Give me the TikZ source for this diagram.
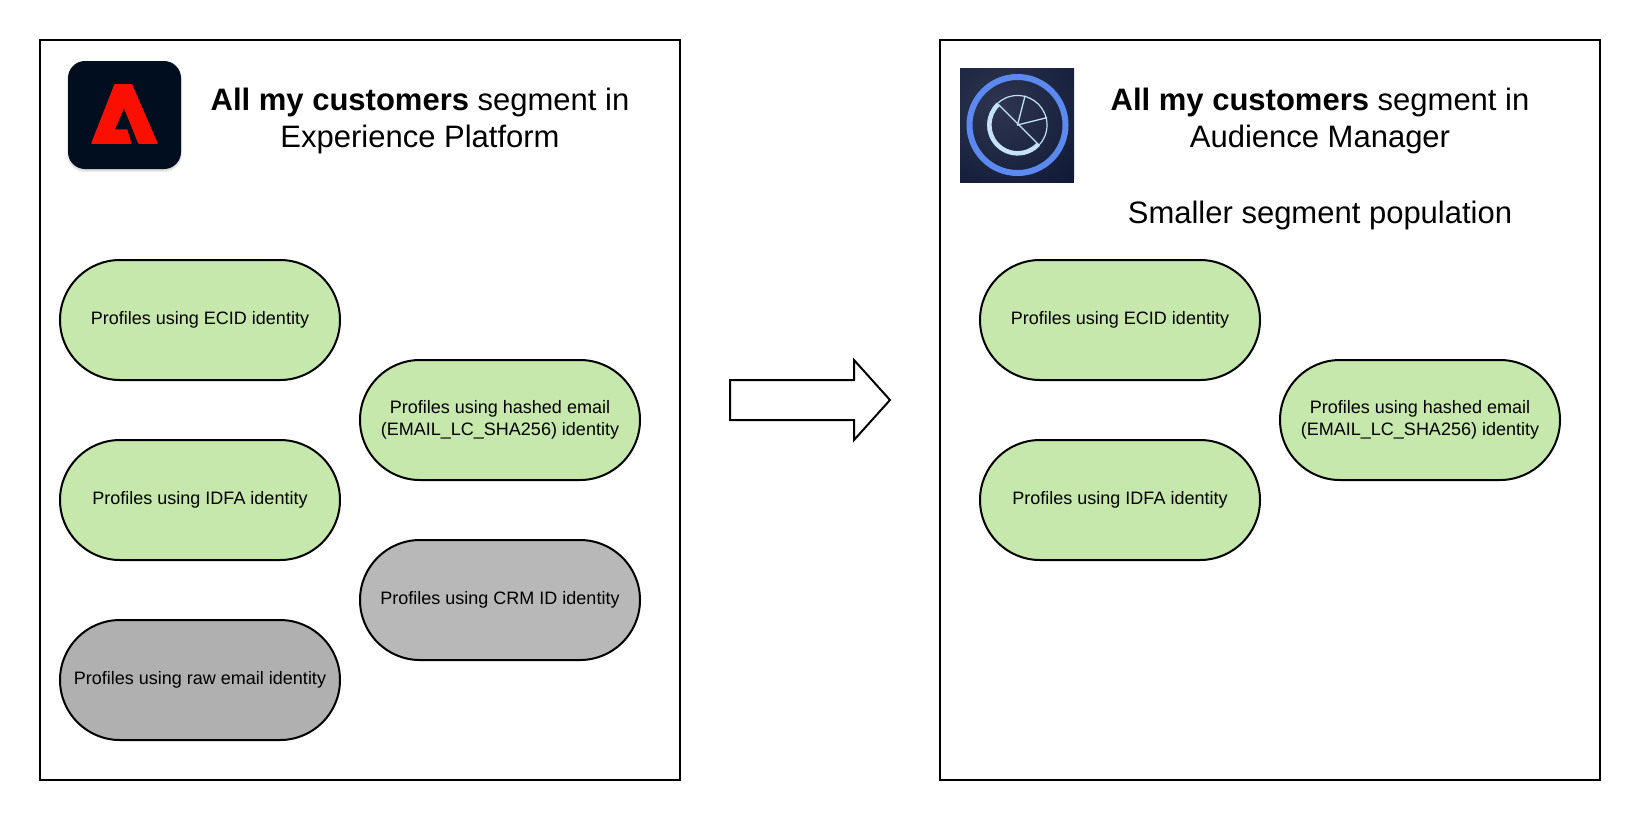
\documentclass[tikz,border=0pt]{standalone}
\usepackage{fontspec}
\setmainfont{Liberation Sans}
\definecolor{pillgreen}{HTML}{C7E8AC}
\definecolor{pillgrey}{HTML}{B0B0B0}
\definecolor{pillgreyb}{HTML}{B8B8B8}
\definecolor{adobebg}{HTML}{000E20}
\definecolor{adobered}{HTML}{FA0F00}
\definecolor{aamblue}{HTML}{5C89F0}
\definecolor{aampale}{HTML}{C5E3F8}
\definecolor{aamdark}{HTML}{0F1A36}
\definecolor{aamlight}{HTML}{2E3550}
\tikzset{
  x=1pt,y=-1pt,
  panel/.style={draw=black,line width=2pt,fill=white,rectangle,minimum width=#1,minimum height=740pt,inner sep=0pt},
  pill/.style={draw=black,line width=2pt,rounded rectangle,minimum width=280pt,minimum height=120pt,inner sep=0pt,align=center,
    font=\fontsize{18}{22}\selectfont},
  green pill/.style={pill,fill=pillgreen},
  grey pill/.style={pill,fill=pillgrey},
  titletext/.style={align=center,inner sep=0pt,font=\fontsize{31}{37.5}\selectfont},
}
\usetikzlibrary{shapes.misc}
\begin{document}
\begin{tikzpicture}
\useasboundingbox (0,0) rectangle (1640,820);
\fill[white] (0,0) rectangle (1640,820);
\node[panel=640pt] (leftpanel) at (360,410) {};
\node[panel=660pt] (rightpanel) at (1270,410) {};

% Adobe icon
\fill[black!8,rounded corners=18pt] (67,62) rectangle (182,172);
\fill[black!15,rounded corners=17pt] (68,63) rectangle (181,170.5);
\fill[adobebg,rounded corners=17pt] (68,61) rectangle (181,169);
\fill[adobered,rounded corners=0.7pt] (91,143.8) -- (114.5,84) -- (132,84) -- (158,143.8) -- (138.3,143.8) -- (124,108.3) -- (115,129.3) -- (127.3,129.3) -- (131.7,143.8) -- cycle;

% Audience Manager icon
\begin{scope}
\clip (960,68) rectangle (1074,182.5);
\fill[aamdark] (960,68) rectangle (1074,182.5);
\shade[inner color=aamlight,outer color=aamdark] (1000,105) circle (105);
\end{scope}
\draw[aamblue,line width=6pt] (1017.5,125) circle (48);
\draw[aampale,line width=1.2pt] (1017.5,125) circle (29.5);
\draw[aampale,line width=4.5pt] (998.3,104.3) arc[start angle=227,end angle=43,radius=28.3];
\draw[aampale,line width=1.3pt,line cap=round] (998.3,104.3) -- (1039,145);
\draw[aampale,line width=1.3pt,line cap=round] (1017.5,125) -- (1025,96);
\draw[aampale,line width=1.3pt,line cap=round] (1017.5,125) -- (1046.7,117.7);

% Titles
\node[titletext] (lefttitle) at (420,121) {\textbf{All my customers} segment in\\Experience Platform};
\node[titletext] (righttitle) at (1320,121) {\textbf{All my customers} segment in\\Audience Manager};
\node[titletext] (smaller) at (1320,215) {Smaller segment population};

% Left pills
\node[green pill] (lecid) at (200,320) {Profiles using ECID identity};
\node[green pill] (lidfa) at (200,500) {Profiles using IDFA identity};
\node[grey pill] (lraw) at (200,680) {Profiles using raw email identity};
\node[green pill] (lhash) at (500,420) {\raisebox{-1pt}{Profiles using hashed email}\\\raisebox{-1pt}{(EMAIL\_LC\_SHA256) identity}};
\node[grey pill,fill=pillgreyb] (lcrm) at (500,600) {\raisebox{-1pt}{Profiles using CRM ID identity}};

% Right pills
\node[green pill] (recid) at (1120,320) {Profiles using ECID identity};
\node[green pill] (ridfa) at (1120,500) {Profiles using IDFA identity};
\node[green pill] (rhash) at (1420,420) {\raisebox{-1pt}{Profiles using hashed email}\\\raisebox{-1pt}{(EMAIL\_LC\_SHA256) identity}};

% Big arrow
\draw[black,line width=2pt,fill=white,miter limit=10] (730,380) -- (854,380) -- (854,360) -- (890,400) -- (854,440) -- (854,420) -- (730,420) -- cycle;
\end{tikzpicture}
\end{document}
